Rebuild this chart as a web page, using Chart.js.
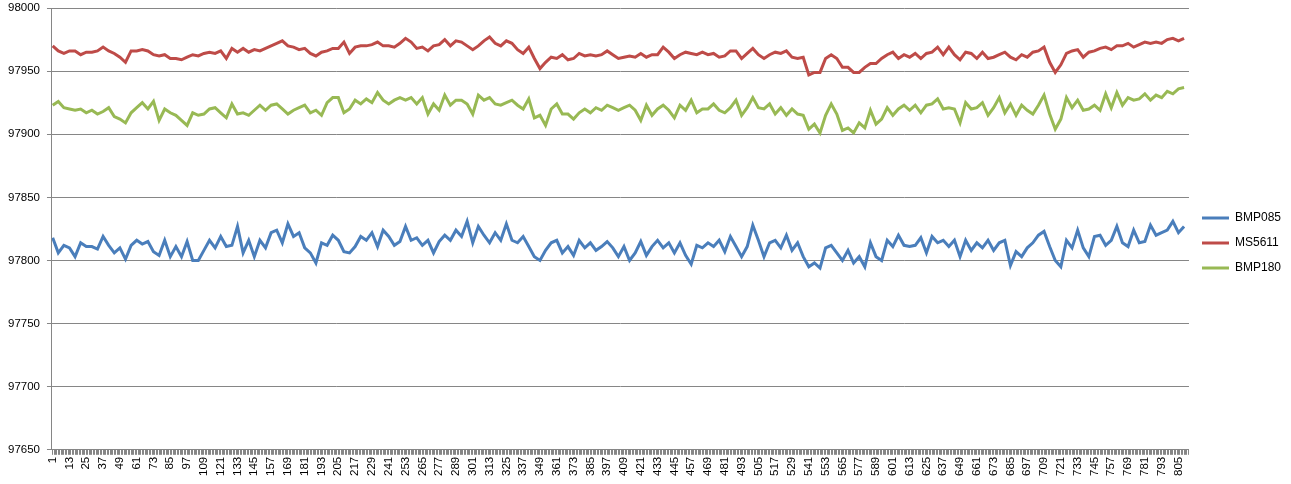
<!DOCTYPE html>
<html lang="en">
<head>
<meta charset="UTF-8">
<title>Pressure sensors</title>
<style>
  body { margin: 0; background: #fff; }
  .chart-box { position: relative; width: 1291px; height: 484px; }
</style>
</head>
<body>
<div class="chart-box"><canvas id="pressureChart"></canvas></div>
<script src="https://cdn.jsdelivr.net/npm/chart.js"></script>
<script>
// x axis: reading number 1..812, labelled every 12th reading
const readingCount = 812;
const labelEvery = 12;
const readingStep = 4;

const yMin = 97650;
const yMax = 98000;
const yStep = 50;

const seriesNames = ['BMP085', 'MS5611', 'BMP180'];
const seriesColors = ['#4a7ebb', '#be4b48', '#98b954'];

const bmp085 = [
  97818, 97806, 97812, 97810, 97803, 97814, 97811, 97811, 97809, 97819, 97812, 97806, 97810, 97801, 97812, 97816, 97813, 97815, 97807, 97804, 97816, 97803, 97811, 97803, 97815, 97800,
  97800, 97808, 97816, 97810, 97819, 97811, 97812, 97827, 97806, 97816, 97803, 97816, 97810, 97822, 97824, 97814, 97829, 97819, 97822, 97810, 97806, 97798, 97814, 97812, 97820,
  97816, 97807, 97806, 97811, 97819, 97816, 97822, 97811, 97824, 97819, 97812, 97815, 97827, 97816, 97818, 97812, 97816, 97806, 97815, 97820, 97816, 97824, 97819, 97831, 97814, 97827,
  97820, 97814, 97822, 97816, 97829, 97816, 97814, 97819, 97811, 97803, 97800, 97808, 97814, 97816, 97806, 97811, 97804, 97816, 97810, 97814, 97808, 97811, 97815, 97810, 97803,
  97811, 97800, 97806, 97815, 97804, 97811, 97816, 97810, 97814, 97806, 97814, 97804, 97797, 97812, 97810, 97814, 97811, 97816, 97807, 97819, 97811, 97803, 97811, 97828, 97816, 97803,
  97814, 97816, 97810, 97820, 97808, 97814, 97803, 97795, 97798, 97794, 97810, 97812, 97806, 97800, 97808, 97798, 97803, 97795, 97814, 97803, 97800, 97816, 97811, 97820, 97812,
  97811, 97812, 97818, 97806, 97819, 97814, 97816, 97811, 97816, 97803, 97816, 97808, 97814, 97810, 97816, 97808, 97814, 97816, 97796, 97807, 97803, 97810, 97814, 97820, 97823, 97811,
  97800, 97795, 97816, 97810, 97824, 97810, 97803, 97819, 97820, 97812, 97816, 97827, 97814, 97811, 97824, 97814, 97815, 97828, 97820, 97822, 97824, 97831, 97822, 97827
];

const ms5611 = [
  97970, 97966, 97964, 97966, 97966, 97963, 97965, 97965, 97966, 97969, 97966, 97964, 97961, 97957, 97966, 97966, 97967, 97966, 97963, 97962, 97963, 97960, 97960, 97959, 97961, 97963,
  97962, 97964, 97965, 97964, 97966, 97960, 97968, 97965, 97968, 97965, 97967, 97966, 97968, 97970, 97972, 97974, 97970, 97969, 97967, 97968, 97964, 97962, 97965, 97966, 97968,
  97968, 97973, 97964, 97969, 97970, 97970, 97971, 97973, 97970, 97970, 97969, 97972, 97976, 97973, 97968, 97969, 97966, 97970, 97971, 97975, 97970, 97974, 97973, 97970, 97967, 97970,
  97974, 97977, 97972, 97970, 97974, 97972, 97967, 97964, 97969, 97960, 97952, 97957, 97961, 97960, 97963, 97959, 97960, 97964, 97962, 97963, 97962, 97963, 97966, 97963, 97960,
  97961, 97962, 97961, 97964, 97961, 97963, 97963, 97969, 97965, 97960, 97963, 97965, 97964, 97963, 97965, 97963, 97964, 97961, 97962, 97966, 97966, 97960, 97964, 97968, 97963, 97960,
  97963, 97965, 97964, 97966, 97961, 97960, 97961, 97947, 97949, 97949, 97960, 97963, 97960, 97953, 97953, 97949, 97949, 97953, 97956, 97956, 97960, 97963, 97965, 97960, 97963,
  97961, 97964, 97960, 97964, 97965, 97969, 97963, 97969, 97963, 97959, 97965, 97964, 97960, 97965, 97960, 97961, 97963, 97965, 97961, 97959, 97963, 97961, 97965, 97966, 97969, 97957,
  97949, 97955, 97964, 97966, 97967, 97961, 97965, 97966, 97968, 97969, 97967, 97970, 97970, 97972, 97969, 97971, 97973, 97972, 97973, 97972, 97975, 97976, 97974, 97976
];

const bmp180 = [
  97923, 97926, 97921, 97920, 97919, 97920, 97917, 97919, 97916, 97918, 97921, 97914, 97912, 97909, 97917, 97921, 97925, 97920, 97926, 97911, 97920, 97917, 97915, 97911, 97907, 97917,
  97915, 97916, 97920, 97921, 97917, 97913, 97924, 97916, 97917, 97915, 97919, 97923, 97919, 97923, 97924, 97920, 97916, 97919, 97921, 97923, 97917, 97919, 97915, 97925, 97929,
  97929, 97917, 97920, 97927, 97924, 97928, 97925, 97933, 97927, 97924, 97927, 97929, 97927, 97929, 97924, 97929, 97916, 97924, 97919, 97931, 97923, 97927, 97927, 97924, 97916, 97931,
  97927, 97929, 97924, 97923, 97925, 97927, 97923, 97920, 97928, 97913, 97915, 97907, 97920, 97924, 97916, 97916, 97912, 97917, 97920, 97917, 97921, 97919, 97923, 97921, 97919,
  97921, 97923, 97919, 97911, 97923, 97915, 97920, 97923, 97919, 97913, 97923, 97919, 97927, 97917, 97920, 97920, 97924, 97919, 97917, 97921, 97927, 97915, 97921, 97929, 97921, 97920,
  97924, 97916, 97921, 97915, 97920, 97916, 97915, 97904, 97908, 97901, 97915, 97924, 97916, 97903, 97905, 97901, 97909, 97905, 97919, 97908, 97912, 97921, 97915, 97920, 97923,
  97919, 97923, 97917, 97923, 97924, 97928, 97920, 97921, 97920, 97909, 97925, 97920, 97921, 97925, 97915, 97921, 97929, 97917, 97924, 97915, 97923, 97919, 97916, 97923, 97931, 97916,
  97904, 97912, 97929, 97921, 97927, 97919, 97920, 97923, 97919, 97932, 97921, 97933, 97923, 97929, 97927, 97928, 97932, 97927, 97931, 97929, 97934, 97932, 97936, 97937
];

const axisGray = '#868686';
const tickFont = { family: "'Liberation Sans', Arial, sans-serif", size: 11.5 };

function toPoints(values) {
  return values.map((v, i) => ({ x: 1 + i * readingStep, y: v }));
}

const datasets = [bmp085, ms5611, bmp180].map((values, i) => ({
  label: seriesNames[i],
  data: toPoints(values),
  borderColor: seriesColors[i],
  backgroundColor: seriesColors[i],
  borderWidth: 3,
  pointRadius: 0,
  tension: 0
}));

new Chart(document.getElementById('pressureChart'), {
  type: 'line',
  data: { datasets },
  options: {
    responsive: true,
    maintainAspectRatio: false,
    animation: false,
    layout: { padding: { top: 8, left: 1, right: 0, bottom: 6 } },
    plugins: {
      tooltip: { enabled: false },
      legend: {
        position: 'right',
        labels: {
          usePointStyle: true,
          pointStyle: 'line',
          pointStyleWidth: 27,
          boxHeight: 12,
          padding: 13,
          color: '#000',
          font: { family: "'Liberation Sans', Arial, sans-serif", size: 12 }
        }
      }
    },
    scales: {
      x: {
        type: 'linear',
        min: 0.5,
        max: readingCount + 0.5,
        afterBuildTicks: axis => {
          const ticks = [];
          for (let i = 1; i <= readingCount; i++) ticks.push({ value: i });
          axis.ticks = ticks;
        },
        afterFit: axis => { axis.paddingLeft = 0; axis.paddingRight = 0; },
        ticks: {
          autoSkip: false,
          minRotation: 90,
          maxRotation: 90,
          padding: 2,
          color: '#000',
          font: tickFont,
          callback: v => ((v - 1) % labelEvery === 0 ? String(v) : '')
        },
        grid: { drawOnChartArea: false, tickLength: 5, color: axisGray },
        border: { color: axisGray }
      },
      y: {
        min: yMin,
        max: yMax,
        afterFit: axis => { axis.paddingTop = 0; axis.paddingBottom = 0; },
        ticks: {
          stepSize: yStep,
          padding: 7,
          color: '#000',
          font: tickFont,
          callback: v => String(v)
        },
        grid: { color: axisGray, tickLength: 5 },
        border: { color: axisGray }
      }
    }
  }
});
</script>
</body>
</html>
